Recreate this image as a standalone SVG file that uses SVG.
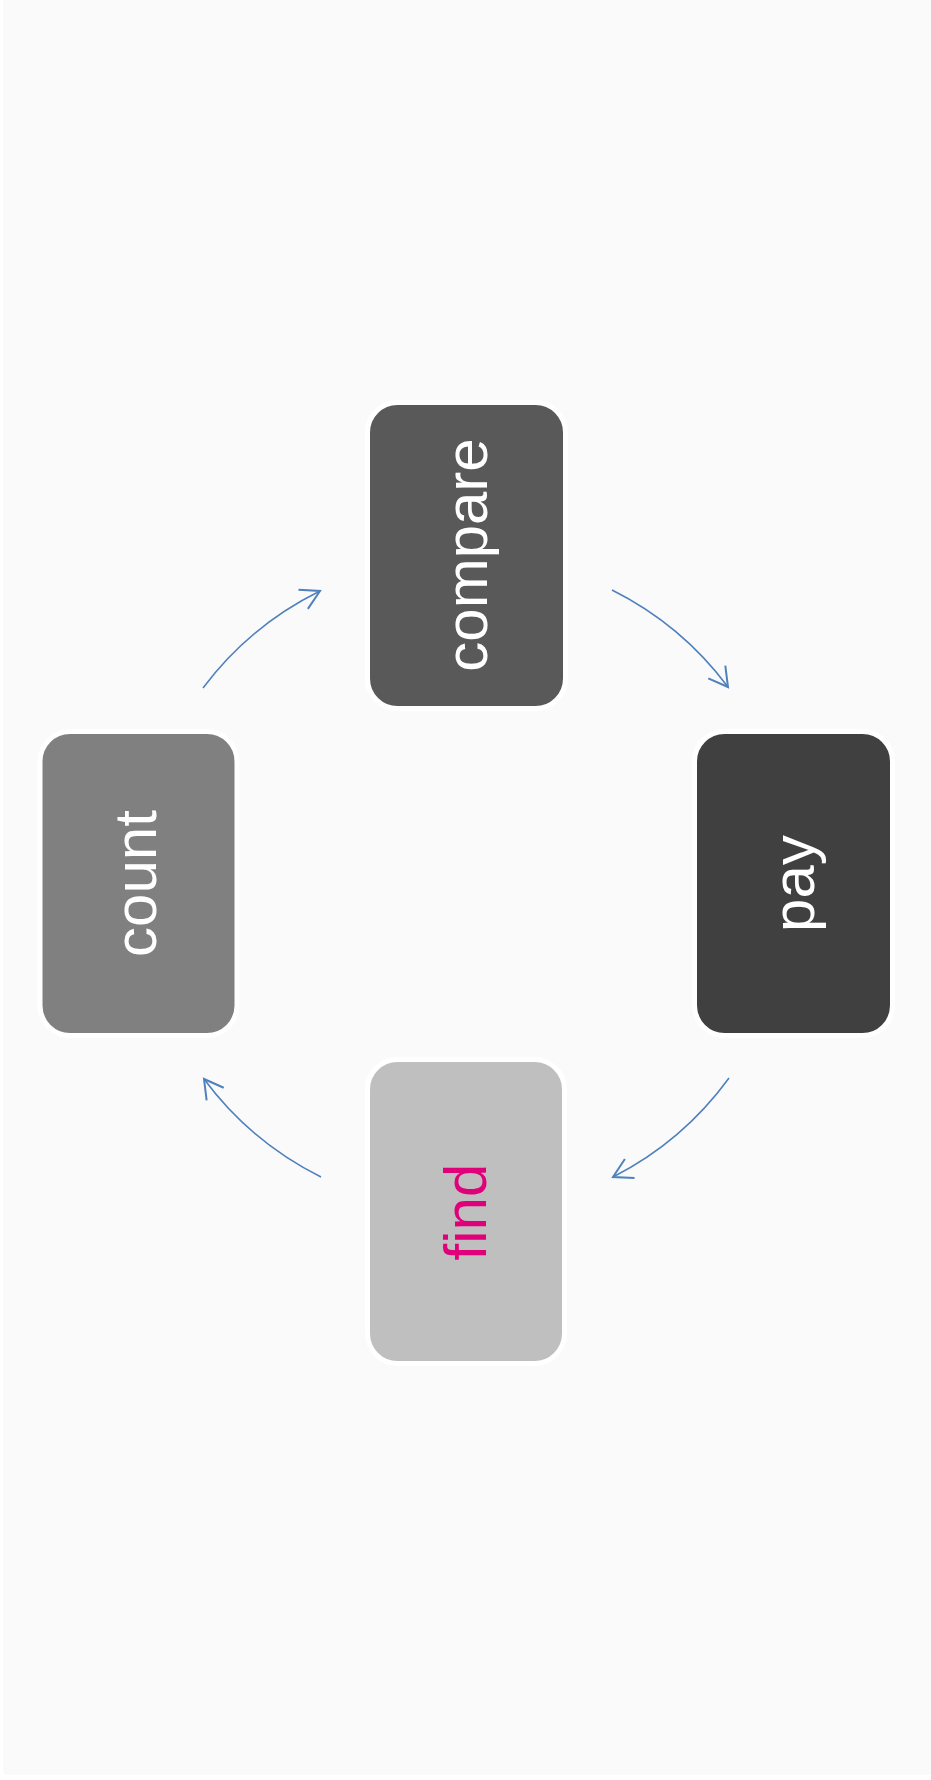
<svg xmlns="http://www.w3.org/2000/svg" width="931" height="1780" viewBox="0 0 931 1780">
<defs>
<style>
.box{stroke:#ffffff;stroke-width:5}
.lbl{font-family:"Liberation Sans",Arial,sans-serif;font-size:60px;text-anchor:middle;fill:#ffffff}
.conn{fill:none;stroke:#4f81bd;stroke-width:1.6}
</style>
<marker id="ah" markerUnits="userSpaceOnUse" markerWidth="30" markerHeight="30" viewBox="-20 -12 24 24" refX="0" refY="0" orient="auto">
<path d="M-15,-8.5 L0,0 L-15,8.5" fill="none" stroke="#4f81bd" stroke-width="1.6"/>
</marker>
</defs>
<rect x="3" y="-6" width="940" height="1781" rx="4" fill="#fafafa"/>
<g id="connectors">
<path class="conn" d="M203,688 A327,327 0 0 1 320,591" marker-end="url(#ah)"/>
<path class="conn" d="M612,590 A327,327 0 0 1 728,687" marker-end="url(#ah)"/>
<path class="conn" d="M729,1078 A327,327 0 0 1 613,1177" marker-end="url(#ah)"/>
<path class="conn" d="M321,1177 A327,327 0 0 1 204,1079" marker-end="url(#ah)"/>
</g>
<g id="node-compare">
<rect class="box" x="367.5" y="402.5" width="198" height="306" rx="30" fill="#595959"/>
<text class="lbl" transform="translate(487,555) rotate(-90)">compare</text>
</g>
<g id="node-pay">
<rect class="box" x="694.5" y="731.5" width="198" height="304" rx="30" fill="#404040"/>
<text class="lbl" transform="translate(814,883.5) rotate(-90)">pay</text>
</g>
<g id="node-find">
<rect class="box" x="367.5" y="1059.5" width="197" height="304" rx="30" fill="#bfbfbf"/>
<text class="lbl" transform="translate(486,1212) rotate(-90)" style="fill:#e0007a">find</text>
</g>
<g id="node-count">
<rect class="box" x="40" y="731.5" width="197" height="304" rx="30" fill="#808080"/>
<text class="lbl" transform="translate(156,883.5) rotate(-90)">count</text>
</g>
</svg>
